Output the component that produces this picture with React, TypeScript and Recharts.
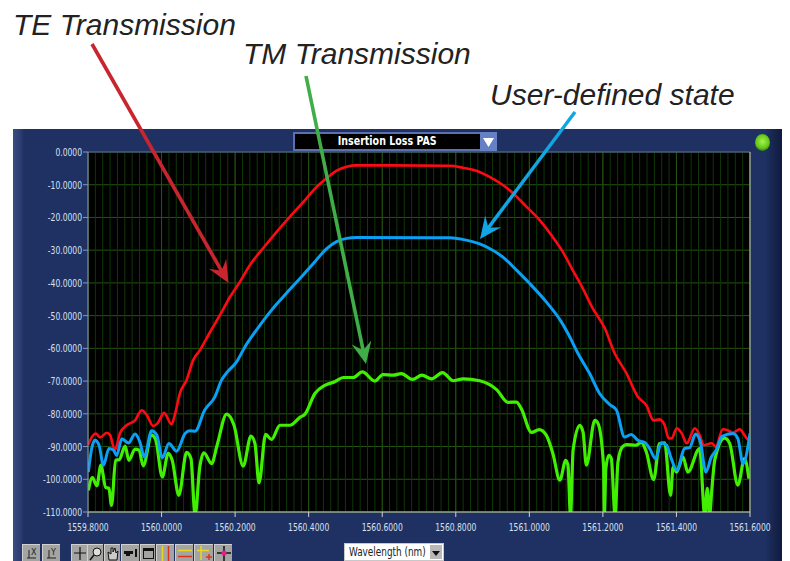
import { CartesianGrid, Line, LineChart, ReferenceLine, XAxis, YAxis } from 'recharts'

const teWave = [1559.8, 1559.81, 1559.821, 1559.833, 1559.851, 1559.86, 1559.873, 1559.887, 1559.905, 1559.928, 1559.946, 1559.96, 1559.977, 1559.989, 1560.007, 1560.027, 1560.036, 1560.05, 1560.068, 1560.086, 1560.104, 1560.132, 1560.159, 1560.186, 1560.213, 1560.24, 1560.276, 1560.313, 1560.349, 1560.39, 1560.422, 1560.449, 1560.476, 1560.503, 1560.53, 1560.621, 1560.784, 1560.819, 1560.856, 1560.892, 1560.928, 1560.955, 1560.992, 1561.028, 1561.06, 1561.091, 1561.118, 1561.145, 1561.172, 1561.205, 1561.232, 1561.264, 1561.295, 1561.318, 1561.338, 1561.354, 1561.368, 1561.379, 1561.387, 1561.401, 1561.414, 1561.428, 1561.45, 1561.463, 1561.474, 1561.496, 1561.507, 1561.526, 1561.539, 1561.553, 1561.572, 1561.585, 1561.594, 1561.6]
const teLoss = [-89.6, -87.2, -86, -87.2, -85.8, -86.5, -91.1, -85.9, -83.5, -82, -78.9, -80.4, -83.7, -82.9, -79.7, -83.2, -80.4, -73.7, -69.7, -63.6, -60.6, -55, -49.8, -44.3, -39.7, -34.6, -29.4, -24.4, -19.8, -14.7, -10.6, -8, -5.7, -4.5, -4.1, -4.1, -4.2, -4.8, -5.7, -7.6, -10.1, -12.5, -16.7, -20.8, -25.4, -30.5, -36.1, -41.6, -47.7, -53.8, -61.5, -67.6, -74.8, -77.4, -82, -81.7, -83.5, -87.5, -87.5, -84.4, -85.9, -89, -84.4, -86.5, -89.6, -89, -90.1, -84.7, -85, -85.8, -84.7, -86.5, -87.8, -86.5]

const userWave = [1559.801, 1559.81, 1559.819, 1559.83, 1559.842, 1559.857, 1559.869, 1559.878, 1559.892, 1559.91, 1559.928, 1559.941, 1559.953, 1559.973, 1559.987, 1560.002, 1560.02, 1560.041, 1560.064, 1560.077, 1560.091, 1560.117, 1560.145, 1560.163, 1560.179, 1560.204, 1560.227, 1560.258, 1560.299, 1560.34, 1560.385, 1560.417, 1560.449, 1560.476, 1560.503, 1560.53, 1560.784, 1560.819, 1560.865, 1560.892, 1560.929, 1560.965, 1561.001, 1561.046, 1561.087, 1561.11, 1561.132, 1561.164, 1561.191, 1561.218, 1561.237, 1561.259, 1561.277, 1561.295, 1561.314, 1561.327, 1561.343, 1561.359, 1561.373, 1561.386, 1561.401, 1561.422, 1561.436, 1561.452, 1561.465, 1561.48, 1561.495, 1561.508, 1561.524, 1561.554, 1561.567, 1561.581, 1561.6]
const userLoss = [-97.8, -90.6, -88.1, -89.6, -95.7, -90.6, -91.1, -92.7, -87.6, -88.9, -86.2, -88.6, -93.2, -85.2, -86.5, -93.4, -89.1, -91.4, -86, -85.2, -85.3, -78.9, -74.8, -69.7, -67.2, -64.1, -59.5, -54.4, -48.3, -43.1, -37.6, -33.5, -29.5, -27.4, -26.4, -26.1, -26.2, -26.7, -28.1, -29.5, -32.2, -36.1, -40.2, -45.8, -51.9, -56.5, -61.5, -67.7, -73.8, -77.1, -78.9, -87.1, -86.3, -88.1, -88.8, -90.6, -93.7, -88.9, -89.6, -93.7, -97.2, -90.6, -90.3, -86.2, -88.6, -97.8, -93.2, -91.1, -86.9, -86, -87.6, -95.2, -86]

const tmWave = [1559.801, 1559.812, 1559.824, 1559.835, 1559.848, 1559.857, 1559.864, 1559.875, 1559.885, 1559.901, 1559.911, 1559.928, 1559.939, 1559.95, 1559.973, 1559.984, 1560.002, 1560.018, 1560.029, 1560.047, 1560.068, 1560.08, 1560.091, 1560.104, 1560.115, 1560.136, 1560.151, 1560.177, 1560.197, 1560.222, 1560.243, 1560.254, 1560.265, 1560.283, 1560.299, 1560.322, 1560.349, 1560.376, 1560.39, 1560.417, 1560.444, 1560.471, 1560.494, 1560.521, 1560.546, 1560.58, 1560.602, 1560.63, 1560.652, 1560.682, 1560.708, 1560.734, 1560.764, 1560.793, 1560.82, 1560.865, 1560.911, 1560.942, 1560.965, 1560.978, 1561.006, 1561.027, 1561.046, 1561.064, 1561.083, 1561.099, 1561.105, 1561.112, 1561.119, 1561.137, 1561.146, 1561.155, 1561.178, 1561.187, 1561.202, 1561.204, 1561.208, 1561.216, 1561.223, 1561.233, 1561.241, 1561.253, 1561.264, 1561.289, 1561.305, 1561.318, 1561.338, 1561.354, 1561.368, 1561.384, 1561.391, 1561.4, 1561.418, 1561.431, 1561.463, 1561.477, 1561.484, 1561.49, 1561.496, 1561.504, 1561.531, 1561.545, 1561.567, 1561.585, 1561.597]
const tmLoss = [-103.4, -99.5, -102, -95.7, -102.5, -102.8, -108, -94.2, -94, -89.9, -94.2, -90.8, -91.1, -95.9, -86.5, -87.9, -99.3, -92.1, -94.2, -104.9, -91.8, -93.7, -111, -96.2, -91.9, -95.2, -89.6, -80.1, -83.5, -96, -86.8, -89.1, -101.1, -86.3, -87.8, -83.5, -83.5, -81.1, -80.1, -73.8, -71.3, -70.2, -68.9, -68.9, -67.2, -70, -68, -68.2, -67.7, -69.5, -68.2, -69.3, -67.4, -69.9, -69.3, -69.9, -72.6, -76.5, -76.4, -78.4, -85.7, -84.8, -86.5, -92.1, -100.3, -94.2, -95.7, -111, -91.1, -83.5, -85.5, -95.7, -82, -83, -96.2, -111, -96.8, -92.7, -93.7, -111, -94.7, -90.1, -89.4, -89.6, -88.8, -91.6, -100.1, -89.1, -88.9, -104.9, -96.2, -97.8, -93.2, -97.8, -90.6, -111, -102.8, -111, -103.4, -94.2, -87.4, -89.1, -101.8, -93.7, -99.8]

const xTicks = [1559.8, 1560, 1560.2, 1560.4, 1560.6, 1560.8, 1561, 1561.2, 1561.4, 1561.6]
const yTicks = [0, -10, -20, -30, -40, -50, -60, -70, -80, -90, -100, -110]
// faint vertical lines between the labelled ticks, every 0.02 nm
const minorGrid = Array.from({ length: 91 }, (_, i) => 1559.8 + i * 0.02)

const zip = (w: number[], v: number[]) => w.map((x, i) => ({ w: x, v: v[i] }))

const NAVY = '#1f3162'
const labelFont = '"DejaVu Sans Condensed", sans-serif'

// the LabVIEW labels are much narrower than any installed font
function AxisTick({ x, y, payload, textAnchor, dy }: any) {
  return (
    <text transform={`translate(${x},${y}) scale(0.77,1)`} dy={dy} textAnchor={textAnchor} fill="#d8e0f0" fontSize={11} fontFamily={labelFont}>
      {payload.value.toFixed(4)}
    </text>
  )
}

function Arrow({ x1, y1, x2, y2, color, width }: { x1: number; y1: number; x2: number; y2: number; color: string; width: number }) {
  const a = Math.atan2(y2 - y1, x2 - x1)
  const ux = Math.cos(a)
  const uy = Math.sin(a)
  const at = (back: number, side: number) => `${x2 - ux * back - uy * side},${y2 - uy * back + ux * side}`
  return (
    <g>
      <line x1={x1} y1={y1} x2={x2 - ux * 12} y2={y2 - uy * 12} stroke={color} strokeWidth={width} />
      <polygon points={`${x2},${y2} ${at(22, 10)} ${at(14, 0)} ${at(22, -10)}`} fill={color} />
    </g>
  )
}

function Annotation({ x, y, text }: { x: number; y: number; text: string }) {
  return (
    <div style={{ position: 'absolute', left: x, top: y, fontFamily: '"Liberation Sans", Arial, sans-serif', fontStyle: 'italic', fontSize: 30, lineHeight: '34px', color: '#222', whiteSpace: 'nowrap' }}>
      {text}
    </div>
  )
}

function ToolButton({ x, w, children }: { x: number; w: number; children?: React.ReactNode }) {
  return (
    <svg width={w} height={17} style={{ position: 'absolute', left: x, top: 544, background: '#a4a4a2', borderTop: '1px solid #d0d0d0', borderLeft: '1px solid #d0d0d0', boxSizing: 'border-box' }}>
      {children}
    </svg>
  )
}

export default function App() {
  return (
    <div style={{ position: 'fixed', left: 0, top: 0, width: 790, height: 561, overflow: 'hidden', background: '#fff' }}>
      {/* instrument panel */}
      <div style={{ position: 'absolute', left: 13, top: 129, width: 769, height: 432, background: `linear-gradient(to right, #3a4d80 0px, #2a3c70 8px, ${NAVY} 11px, ${NAVY} 752px, #0f1a3c 769px)` }} />
      <div style={{ position: 'absolute', left: 293, top: 132, width: 204, height: 19, boxSizing: 'border-box', background: '#000', border: '2px solid #5a70b0', color: '#fff', fontFamily: labelFont, fontSize: 12, textAlign: 'center', lineHeight: '15px', paddingRight: 16, whiteSpace: 'nowrap' }}>
        <span style={{ display: 'inline-block', transform: 'scaleX(0.88)', fontWeight: 700 }}>Insertion Loss PAS</span>
      </div>
      <svg width={17} height={19} style={{ position: 'absolute', left: 480, top: 132, background: '#6580c4' }}>
        <polygon points="3,6 14,6 8.5,15" fill="#fff" />
      </svg>
      <div style={{ position: 'absolute', left: 755, top: 134, width: 15, height: 17, borderRadius: '50%', background: 'radial-gradient(circle at 50% 45%, #a8f050 0%, #62c818 55%, #2c5a20 85%, #16264c 100%)' }} />

      <div style={{ position: 'absolute', left: 0, top: 0 }}>
        <LineChart width={790} height={561} margin={{ left: 14, right: 40, top: 152, bottom: 19 }}>
          <CartesianGrid fill="#000" fillOpacity={1} stroke="#265410" strokeWidth={1} vertical={false} />
          {minorGrid.map((v) => (
            <ReferenceLine key={v} x={v} stroke="#0e3806" strokeWidth={1} ifOverflow="hidden" />
          ))}
          {xTicks.map((v) => (
            <ReferenceLine key={v} x={v} stroke="#265410" strokeWidth={1} />
          ))}
          <ReferenceLine y={0} stroke="#5a6a9a" strokeWidth={1} />
          <ReferenceLine x={1561.6} stroke="#c8c8c8" strokeWidth={1} />
          <XAxis
            type="number"
            dataKey="w"
            domain={[1559.8, 1561.6]}
            ticks={xTicks}
            allowDataOverflow
            height={30}
            tickSize={5}
            tickMargin={3}
            interval={0}
            stroke="#d0d0d0"
            tick={<AxisTick textAnchor="middle" dy={11} />}
          />
          <YAxis
            type="number"
            domain={[-110, 0]}
            ticks={yTicks}
            allowDataOverflow
            width={74}
            tickSize={5}
            tickMargin={1}
            interval={0}
            stroke="#8a96b8"
            tick={<AxisTick textAnchor="end" dy={4} />}
          />
          <Line data={zip(tmWave, tmLoss)} dataKey="v" type="monotone" stroke="#40f000" strokeWidth={3.2} dot={false} isAnimationActive={false} />
          <Line data={zip(teWave, teLoss)} dataKey="v" type="monotone" stroke="#ff0a14" strokeWidth={2.6} dot={false} isAnimationActive={false} />
          <Line data={zip(userWave, userLoss)} dataKey="v" type="monotone" stroke="#0aa0f5" strokeWidth={3} dot={false} isAnimationActive={false} />
        </LineChart>
      </div>

      {/* callouts */}
      <svg width={790} height={561} style={{ position: 'absolute', left: 0, top: 0, pointerEvents: 'none' }}>
        <Arrow x1={92} y1={44} x2={228.5} y2={283} color="#c9252f" width={3.6} />
        <Arrow x1={306} y1={76} x2={366} y2={364} color="#3fae49" width={3.6} />
        <Arrow x1={575} y1={112} x2={480} y2={239} color="#12a5e4" width={3.4} />
      </svg>
      <Annotation x={13} y={8} text="TE Transmission" />
      <Annotation x={243} y={37} text="TM Transmission" />
      <Annotation x={490} y={78} text="User-defined state" />

      {/* graph palette */}
      <ToolButton x={22} w={18}>
        <path d="M4 13 L13 13 M6 13 L6 5" stroke="#222" fill="none" />
        <text x={8} y={10} fontSize={8} fontFamily="DejaVu Sans" fill="#222">X</text>
      </ToolButton>
      <ToolButton x={42} w={18}>
        <path d="M4 13 L13 13 M6 13 L6 5" stroke="#222" fill="none" />
        <text x={8} y={10} fontSize={8} fontFamily="DejaVu Sans" fill="#222">Y</text>
      </ToolButton>
      <ToolButton x={71} w={16}>
        <path d="M8 2 L8 15 M2 8 L14 8" stroke="#111" strokeWidth={1.2} />
      </ToolButton>
      <ToolButton x={87} w={16}>
        <circle cx={9} cy={7} r={4} fill="#ddd" stroke="#111" />
        <path d="M6 10 L2 15" stroke="#111" strokeWidth={1.5} />
      </ToolButton>
      <ToolButton x={104} w={16}>
        <path d="M4 15 L3 7 L6 9 L6 3 L8 3 L8 7 L10 3 L11 8 L13 6 L12 15 Z" fill="#ccc" stroke="#111" />
      </ToolButton>
      <ToolButton x={121} w={18}>
        <path d="M2 6 L11 6 L11 9 L8 9 L8 11 L4 11 L4 9 L2 9 Z M13 4 L15 4 L15 12 L13 12 Z" fill="#111" />
      </ToolButton>
      <ToolButton x={140} w={15}>
        <rect x={2.5} y={3.5} width={10} height={10} fill="none" stroke="#111" />
        <path d="M2.5 5 L12.5 5" stroke="#111" strokeWidth={2} />
      </ToolButton>
      <ToolButton x={156} w={18}>
        <path d="M5.5 1 L5.5 16" stroke="#e8d820" strokeWidth={1.5} />
        <path d="M11.5 1 L11.5 16" stroke="#e03020" strokeWidth={1.5} />
      </ToolButton>
      <ToolButton x={175} w={18}>
        <path d="M2 5.5 L16 5.5" stroke="#e8d820" strokeWidth={1.5} />
        <path d="M2 11.5 L16 11.5" stroke="#e03020" strokeWidth={1.5} />
      </ToolButton>
      <ToolButton x={194} w={19}>
        <path d="M2 5.5 L14 5.5 M6 1 L6 15" stroke="#e8d820" strokeWidth={1.5} />
        <path d="M14 9 L14 15 M11 12 L17 12" stroke="#e03020" strokeWidth={1.5} />
      </ToolButton>
      <ToolButton x={214} w={18}>
        <path d="M9 1 L9 16 M2 8 L16 8" stroke="#111" strokeWidth={1.5} />
        <circle cx={9} cy={8} r={2.5} fill="#e0208c" />
      </ToolButton>

      <div style={{ position: 'absolute', left: 344, top: 543, width: 100, height: 18, boxSizing: 'border-box', background: '#fff', border: '1px solid #c8c8c8', fontFamily: labelFont, fontSize: 13, lineHeight: '16px', color: '#222', whiteSpace: 'nowrap', overflow: 'visible' }}>
        <span style={{ display: 'inline-block', marginLeft: 4, transform: 'scaleX(0.76)', transformOrigin: 'left center' }}>Wavelength (nm)</span>
      </div>
      <svg width={12} height={14} style={{ position: 'absolute', left: 430, top: 545, background: '#b8b8b8' }}>
        <polygon points="2,6 10,6 6,11" fill="#111" />
      </svg>
    </div>
  )
}
